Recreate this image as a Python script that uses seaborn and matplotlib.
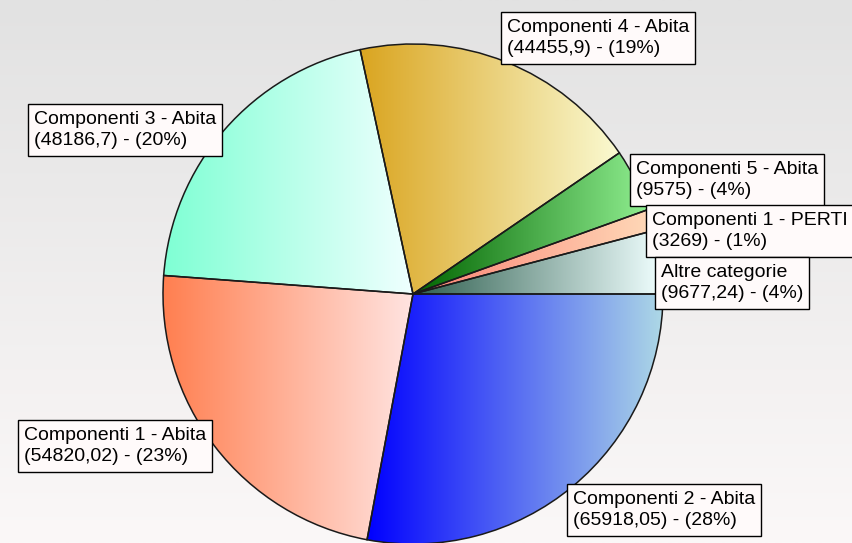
import numpy as np
import matplotlib
matplotlib.use('Agg')
import matplotlib.pyplot as plt
from matplotlib.patches import Rectangle
import seaborn as sns

# slices, clockwise from 3 o'clock
categories = ['Componenti 2 - Abita', 'Componenti 1 - Abita', 'Componenti 3 - Abita',
              'Componenti 4 - Abita', 'Componenti 5 - Abita', 'Componenti 1 - PERTI',
              'Altre categorie']
values = [65918.05, 54820.02, 48186.7, 44455.9, 9575, 3269, 9677.24]

# gradient (left -> right) for every slice
grad_colors = [('#0000ff', '#add8e6'), ('#ff7f50', '#ffe4e1'), ('#7fffd4', '#f0ffff'),
               ('#daa520', '#fafad2'), ('#006400', '#90ee90'), ('#fa8072', '#ffdab9'),
               ('#2f5f4f', '#f0ffff')]

# label boxes, top-left corner in pixels from the top-left of the image
label_pos = [(567, 484), (18, 420), (28, 104), (501, 12), (630, 154), (646, 205), (655, 257)]

W, H = 852, 543
FS = 14
BOX_H = 52


def fmt(v):
    s = ('%.2f' % v).rstrip('0').rstrip('.')
    return s.replace('.', ',')


sns.set_theme(style='white')
plt.rcParams['font.family'] = ['Liberation Sans', 'DejaVu Sans']

fig = plt.figure(figsize=(W / 100, H / 100), dpi=100)
ax = fig.add_axes([0, 0, 1, 1])

# background gradient, light grey on top to almost white at the bottom
bg = sns.blend_palette(['#fbf8f8', '#e2e2e2'], as_cmap=True)
ax.imshow(np.linspace(0, 1, 256).reshape(-1, 1), cmap=bg, extent=(0, W, 0, H),
          origin='lower', aspect='auto', zorder=0)

wedges, _ = ax.pie(values, startangle=0, counterclock=False, center=(413, H - 294),
                   radius=250, frame=False,
                   wedgeprops=dict(edgecolor='#1a1a1a', linewidth=1.1, zorder=2))

grad = np.linspace(0, 1, 256).reshape(1, -1)
for w, (c0, c1) in zip(wedges, grad_colors):
    cmap = sns.blend_palette([c0, c1], as_cmap=True)
    ext = w.get_path().get_extents()
    im = ax.imshow(grad, cmap=cmap, extent=(ext.x0, ext.x1, ext.y0, ext.y1),
                   origin='lower', aspect='auto', zorder=1)
    im.set_clip_path(w)
    w.set_facecolor('none')

ax.set_xlim(0, W)
ax.set_ylim(0, H)
ax.set_aspect('auto')
ax.axis('off')

# labels: text first, then a box sized to it
total = sum(values)
renderer = fig.canvas.get_renderer()
for name, v, (bx, by) in zip(categories, values, label_pos):
    txt = f"{name}\n({fmt(v)}) - ({round(v / total * 100)}%)"
    t = ax.text(bx + 6, H - by - BOX_H / 2, txt, ha='left', va='center',
                fontsize=FS, color='black', zorder=6, linespacing=1.25, clip_on=False)
    tw = t.get_window_extent(renderer).width
    ax.add_patch(Rectangle((bx, H - by - BOX_H), tw + 12, BOX_H, fc='#fffafa',
                           ec='black', lw=1, zorder=5, clip_on=False))

fig.savefig('out.png', dpi=100)
